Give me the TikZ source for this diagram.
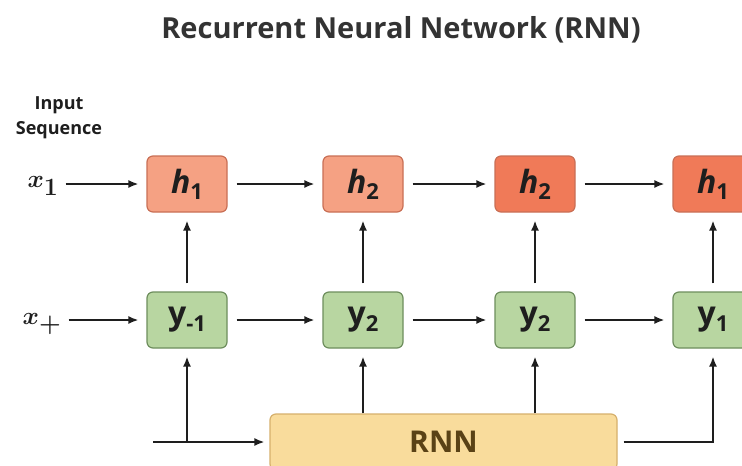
\documentclass[tikz,border=0pt]{standalone}
\usepackage{fontspec}
\setmainfont{Open Sans}
\usetikzlibrary{arrows.meta}

\definecolor{hfill}{HTML}{F5A183}
\definecolor{hfilldeep}{HTML}{F07A58}
\definecolor{hborder}{HTML}{C96F55}
\definecolor{yfill}{HTML}{B8D6A1}
\definecolor{yborder}{HTML}{6E8E5D}
\definecolor{rnnfill}{HTML}{F9DC9C}
\definecolor{rnnborder}{HTML}{D6B06C}
\definecolor{rnntext}{HTML}{5A4216}
\definecolor{ink}{HTML}{1E1E1E}
\definecolor{titleink}{HTML}{333333}

% lowered upright subscript for box labels
\newcommand\lowsub[1]{\raisebox{-0.35ex}{\upshape\fontsize{22}{22}\selectfont #1}}

\begin{document}
\begin{tikzpicture}[x=1pt,y=-1pt,
  cell/.style={rounded corners=6pt, line width=1.2pt, minimum width=80pt,
    minimum height=56pt, inner sep=0pt, text=ink},
  hbox/.style={cell, draw=hborder, fill=hfill,
    font=\fontsize{32}{32}\selectfont\bfseries\itshape},
  hdeep/.style={hbox, fill=hfilldeep},
  ybox/.style={cell, draw=yborder, fill=yfill,
    font=\fontsize{32}{32}\selectfont\bfseries},
  rnnbox/.style={rounded corners=6pt, line width=1.2pt, draw=rnnborder,
    fill=rnnfill, minimum width=347pt, minimum height=56pt, text=rnntext,
    font=\fontsize{30}{32}\selectfont\bfseries},
  varlabel/.style={inner sep=0pt, text=ink, font=\fontsize{35}{36}\selectfont\boldmath},
  link/.style={draw=ink, line width=1.7pt, -{Latex[length=10pt,width=8pt]},
    shorten <=9pt, shorten >=8pt}
]
\clip (0,0) rectangle (742,466);
\fill[white] (0,0) rectangle (742,466);

% title and caption
\node[text=titleink, font=\fontsize{29}{32}\selectfont\bfseries] (title) at (401,30)
  {Recurrent Neural Network (RNN)};
\node[align=center, text=ink, font=\fontsize{18}{25}\selectfont\bfseries] (inseq) at (59,118)
  {Input\\Sequence};

% hidden row
\node[hbox]  (h1) at (187,184) {h\lowsub{1}};
\node[hbox]  (h2) at (363,184) {h\lowsub{2}};
\node[hdeep] (h3) at (535,184) {h\lowsub{2}};
\node[hdeep] (h4) at (713,184) {h\lowsub{1}};

% lower row
\node[ybox] (y1) at (187,320) {y\lowsub{-1}};
\node[ybox] (y2) at (363,320) {y\lowsub{2}};
\node[ybox] (y3) at (535,320) {y\lowsub{2}};
\node[ybox] (y4) at (713,320) {y\lowsub{1}};

% recurrent block
\node[rnnbox] (rnn) at (443.5,442) {RNN};

% inputs
\node[varlabel] (x1) at (43,186) {$x_1$};
\node[varlabel] (x2) at (42,324) {$x_{+}$};
\coordinate (in) at (153,442);

% horizontal links
\draw[link, shorten <=7pt] (x1.east |- h1.west) -- (h1.west);
\draw[link, shorten <=7pt] (x2.east |- y1.west) -- (y1.west);
\draw[link] (h1) -- (h2);
\draw[link] (h2) -- (h3);
\draw[link] (h3) -- (h4);
\draw[link] (y1) -- (y2);
\draw[link] (y2) -- (y3);
\draw[link] (y3) -- (y4);

% vertical links
\draw[link, shorten <=8pt] (y1) -- (h1);
\draw[link, shorten <=8pt] (y2) -- (h2);
\draw[link, shorten <=8pt] (y3) -- (h3);
\draw[link, shorten <=8pt] (y4) -- (h4);
\draw[link, shorten <=0pt] (rnn.north -| y2) -- (y2);
\draw[link, shorten <=0pt] (rnn.north -| y3) -- (y3);

% input feed and output loop
\draw[link, shorten <=0pt, shorten >=5pt] (in) -- (rnn.west);
\draw[link, shorten <=0pt] (in -| y1) -- (y1);
\draw[link, shorten <=6pt] (rnn.east) -| (y4);
\end{tikzpicture}
\end{document}
